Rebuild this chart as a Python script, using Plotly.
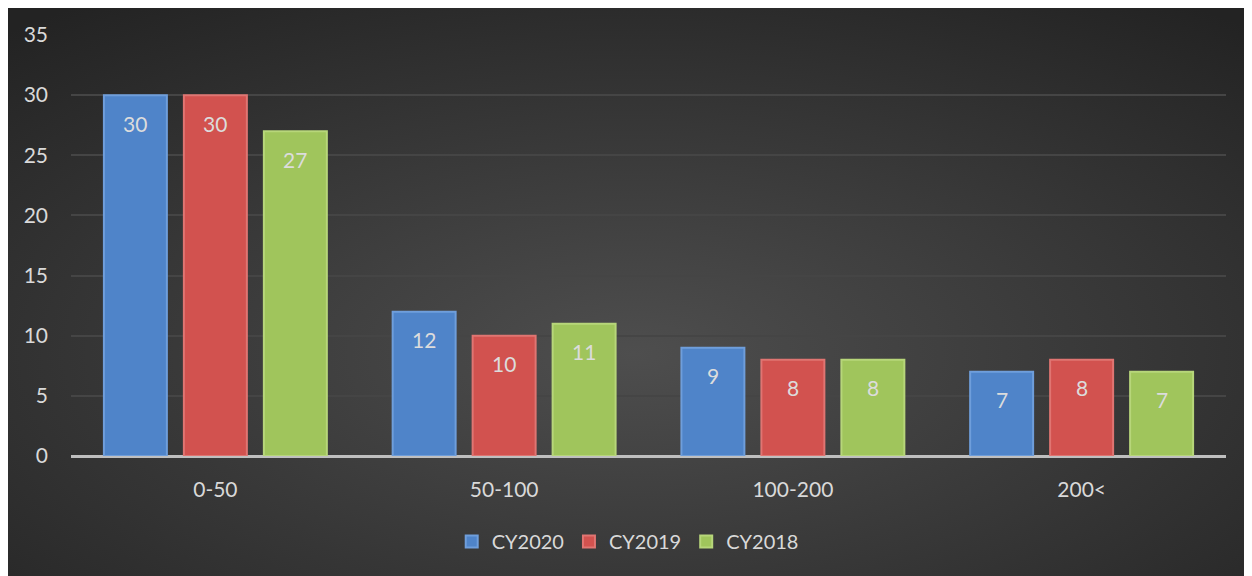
import base64
import plotly.graph_objects as go

categories = ["0-50", "50-100", "100-200", "200<"]
cy2020 = [30, 12, 9, 7]
cy2019 = [30, 10, 8, 8]
cy2018 = [27, 11, 8, 7]
series_names = ["CY2020", "CY2019", "CY2018"]
y_ticks = [0, 5, 10, 15, 20, 25, 30, 35]

colors = ["#4F84C9", "#D2524F", "#A0C55C"]
edge = ["#6F9EDB", "#E07572", "#B7D67A"]
FONT = "Lato, Open Sans, sans-serif"

W, H = 1252, 576
L, T = 63, 27
pw, ph = 1155, 421
R, B = W - L - pw, H - T - ph

svg = """<svg xmlns='http://www.w3.org/2000/svg' width='1252' height='576' viewBox='0 0 1252 576' preserveAspectRatio='none'>
<defs><radialGradient id='g' cx='0.5' cy='0.6' r='0.75' gradientUnits='objectBoundingBox'>
<stop offset='0' stop-color='#4e4e4e'/><stop offset='1' stop-color='#232323'/></radialGradient></defs>
<rect width='1252' height='576' fill='url(#g)'/></svg>"""
src = "data:image/svg+xml;base64," + base64.b64encode(svg.encode()).decode()

fig = go.Figure()
all_vals = [cy2020, cy2019, cy2018]
for name, vals, c, e in zip(series_names, all_vals, colors, edge):
    fig.add_trace(go.Bar(
        x=categories, y=vals, name=name,
        marker=dict(color=c, line=dict(color=e, width=2)),
        hoverinfo="skip",
    ))

slot = 80
for i, vals in enumerate(all_vals):
    for cat, v in zip(categories, vals):
        fig.add_annotation(x=cat, y=v, text=str(v), showarrow=False,
                           xshift=(i - 1) * slot, yshift=-28,
                           font=dict(family=FONT, size=21, color="#DCDCDC"))

x0 = -L / pw
x1 = (W - L) / pw
y1 = (ph + T) / ph
y0 = -B / ph
fig.add_layout_image(dict(source=src, xref="paper", yref="paper", x=x0, y=y1,
                          sizex=x1 - x0, sizey=y1 - y0, sizing="stretch",
                          xanchor="left", yanchor="top", layer="below"))

fig.update_layout(
    width=W, height=H,
    margin=dict(l=L, r=R, t=T, b=B),
    paper_bgcolor="#2a2a2a", plot_bgcolor="rgba(0,0,0,0)",
    barmode="group", bargap=0.169, bargroupgap=0.2125,
    font=dict(family=FONT, size=21, color="#D9D9D9"),
    showlegend=True,
    legend=dict(orientation="h", x=0.482, xanchor="center", y=-0.157, yanchor="top",
                font=dict(size=20, color="#D9D9D9"), itemwidth=30,
                bgcolor="rgba(0,0,0,0)", traceorder="normal"),
    xaxis=dict(showgrid=False, showline=False, ticks="", tickfont=dict(size=21, color="#D9D9D9"),
               ticklabelstandoff=19),
    yaxis=dict(range=[0, 35], tickvals=y_ticks, showgrid=True, gridcolor="#454545", gridwidth=2,
               zeroline=True, zerolinecolor="#BFBFBF", zerolinewidth=2.5,
               ticks="", tickfont=dict(size=21, color="#D9D9D9"), ticklabelstandoff=22),
)

fig.write_html("out.html")
